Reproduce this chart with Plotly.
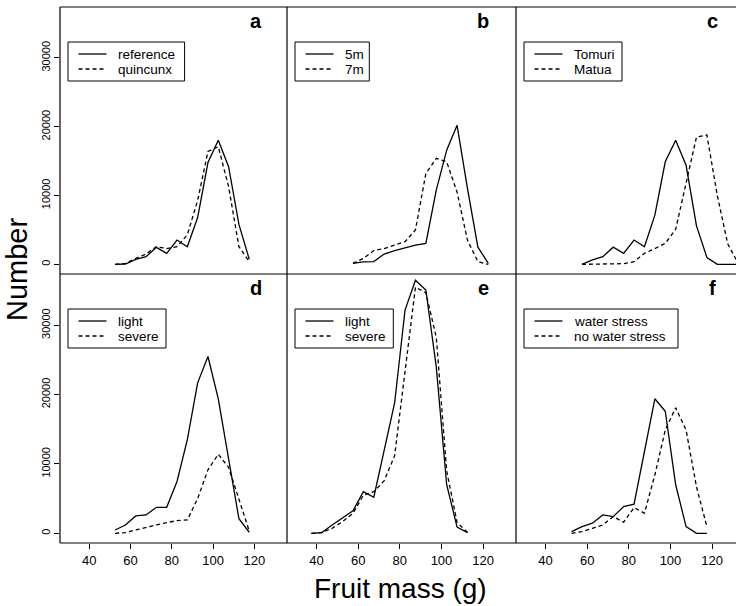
import plotly.graph_objects as go

# ---- data: fruit counts per 5 g mass class ----
mass_a = [52.5, 57.5, 62.5, 67.5, 72.5, 77.5, 82.5, 87.5, 92.5, 97.5, 102.5, 107.5, 112.5, 117.5]
a_reference = [0, 50, 730, 1110, 2470, 1600, 3530, 2570, 6800, 14800, 18050, 14200, 5800, 750]
a_quincunx = [0, 150, 870, 1500, 2570, 2300, 2570, 4300, 9300, 16400, 17100, 11300, 2570, 390]

mass_b = [57.5, 62.5, 67.5, 72.5, 77.5, 82.5, 87.5, 92.5, 97.5, 102.5, 107.5, 112.5, 117.5, 122.5]
b_5m = [150, 350, 400, 1500, 2000, 2450, 2800, 3050, 10800, 16600, 20200, 11000, 2500, 150]
b_7m = [150, 870, 2000, 2300, 2800, 3300, 5000, 13200, 15400, 14900, 10500, 3500, 400, 0]

mass_c = [57.5, 62.5, 67.5, 72.5, 77.5, 82.5, 87.5, 92.5, 97.5, 102.5, 107.5, 112.5,
          117.5, 122.5, 127.5, 132.5]
c_tomuri = [0, 650, 1110, 2500, 1600, 3530, 2570, 7150, 14900, 18050, 14400, 5600, 1000, 0, 0, 0]
c_matua = [0, 0, 0, 0, 100, 390, 1600, 2300, 3050, 5100, 12000, 18500, 18800, 10000, 3000, 150]

mass_d = [52.5, 57.5, 62.5, 67.5, 72.5, 77.5, 82.5, 87.5, 92.5, 97.5, 102.5, 107.5, 112.5, 117.5]
d_light = [480, 1200, 2500, 2650, 3750, 3750, 7470, 13500, 21700, 25500, 19400, 10800, 2100, 150]
d_severe = [0, 100, 480, 870, 1200, 1540, 1830, 1930, 5000, 9150, 11400, 9500, 5000, 340]

mass_e = [37.5, 42.5, 47.5, 52.5, 57.5, 62.5, 67.5, 72.5, 77.5, 82.5, 87.5, 92.5,
          97.5, 102.5, 107.5, 112.5]
e_light = [0, 100, 1200, 2170, 3250, 6000, 5200, 12000, 18800, 32200, 36500, 35100,
           24000, 7000, 900, 100]
e_severe = [0, 100, 720, 1690, 2890, 5500, 6000, 7600, 11200, 23200, 35500, 34700,
            28300, 9000, 1550, 150]

mass_f = [52.5, 57.5, 62.5, 67.5, 72.5, 77.5, 82.5, 87.5, 92.5, 97.5, 102.5, 107.5, 112.5, 117.5]
f_stress = [230, 960, 1450, 2650, 2400, 3850, 4200, 12000, 19400, 17600, 7000, 960, 0, 0]
f_nostress = [0, 240, 720, 1200, 2400, 1600, 3700, 2900, 8400, 14900, 18100, 14900, 6700, 960]

panel_letters = ["a", "b", "c", "d", "e", "f"]
legend_labels = [
    ["reference", "quincunx"],
    ["5m", "7m"],
    ["Tomuri", "Matua"],
    ["light", "severe"],
    ["light", "severe"],
    ["water stress", "no water stress"],
]
x_ticks = [40, 60, 80, 100, 120]
y_ticks = [0, 10000, 20000, 30000]
y_tick_text = ["0", "10000", "20000", "30000"]

panels = [
    (mass_a, a_reference, a_quincunx),
    (mass_b, b_5m, b_7m),
    (mass_c, c_tomuri, c_matua),
    (mass_d, d_light, d_severe),
    (mass_e, e_light, e_severe),
    (mass_f, f_stress, f_nostress),
]

# ---- geometry (pixels) ----
W, H = 736, 606
FONT = "Liberation Sans, Arial, Helvetica, sans-serif"
col_px = [(60, 287), (287, 516), (516, 736)]
row_px = [(7, 274), (274, 543)]
x_ranges = [[25.8, 135.8], [25.8, 135.8], [25.8, 25.8 + 220 * 110 / 229]]
y_range = [-1400, 37400]
legend_box_w = [116.6, 74.3, 98.0, 98.0, 98.3, 154.0]
DASH = "4px,3px"


def px(x):
    return x / W


def py(y):
    return 1 - y / H


fig = go.Figure()
layout = dict(
    width=W, height=H,
    margin=dict(l=0, r=0, t=0, b=0),
    paper_bgcolor="white", plot_bgcolor="white",
    showlegend=False,
    font=dict(family=FONT, color="black"),
)
shapes = []
annotations = []

for i, (xs, s1, s2) in enumerate(panels):
    row, col = divmod(i, 3)
    x0, x1 = col_px[col]
    y0, y1 = row_px[row]
    xa = "x" if i == 0 else f"x{i + 1}"
    ya = "y" if i == 0 else f"y{i + 1}"

    fig.add_trace(go.Scatter(x=xs, y=s1, mode="lines", xaxis=xa, yaxis=ya,
                             line=dict(color="black", width=1.3)))
    fig.add_trace(go.Scatter(x=xs, y=s2, mode="lines", xaxis=xa, yaxis=ya,
                             line=dict(color="black", width=1.3, dash=DASH)))

    bottom = row == 1
    left = col == 0
    layout["xaxis" if i == 0 else f"xaxis{i + 1}"] = dict(
        domain=[px(x0), px(x1)], range=x_ranges[col], anchor=ya,
        showgrid=False, zeroline=False, showline=False,
        tickvals=x_ticks, ticks="outside" if bottom else "",
        ticklen=5, tickwidth=1, tickcolor="black",
        showticklabels=bottom, tickfont=dict(size=13, family=FONT),
    )
    layout["yaxis" if i == 0 else f"yaxis{i + 1}"] = dict(
        domain=[py(y1), py(y0)], range=y_range, anchor=xa,
        showgrid=False, zeroline=False, showline=False,
        tickvals=y_ticks, ticktext=y_tick_text, ticks="outside" if left else "",
        ticklen=5, tickwidth=1, tickcolor="black",
        showticklabels=left, tickangle=-90, tickfont=dict(size=11, family=FONT),
    )

    # panel letter
    annotations.append(dict(
        x=px(x0 + 229 - 33), y=py(y0 + 23), xref="paper", yref="paper",
        text=f"<b>{panel_letters[i]}</b>", showarrow=False,
        xanchor="center", yanchor="bottom", yshift=-4,
        font=dict(size=20, family=FONT, color="black"),
    ))

    # legend box with line samples and labels
    bx0 = x0 + 8
    bx1 = bx0 + legend_box_w[i]
    by0 = y0 + 35
    by1 = y0 + 74
    shapes.append(dict(type="rect", xref="paper", yref="paper",
                       x0=px(bx0), x1=px(bx1), y0=py(by1), y1=py(by0),
                       line=dict(color="black", width=1), fillcolor="white", layer="above"))
    for k, dash in enumerate(["solid", DASH]):
        ly = y0 + 47 + k * 15
        shapes.append(dict(type="line", xref="paper", yref="paper",
                           x0=px(bx0 + 10.5), x1=px(bx0 + 38.5), y0=py(ly), y1=py(ly),
                           line=dict(color="black", width=1.3, dash=dash), layer="above"))
        annotations.append(dict(
            x=px(bx0 + 48), y=py(ly + 0.5), xref="paper", yref="paper",
            text=legend_labels[i][k], showarrow=False,
            xanchor="left", yanchor="middle",
            font=dict(size=13.5, family=FONT, color="black"),
        ))

# panel frame lines
for y in (7, 274, 543):
    shapes.append(dict(type="line", xref="paper", yref="paper",
                       x0=px(60), x1=1, y0=py(y), y1=py(y),
                       line=dict(color="black", width=1.2), layer="above"))
for x in (60, 287, 516):
    shapes.append(dict(type="line", xref="paper", yref="paper",
                       x0=px(x), x1=px(x), y0=py(543), y1=py(7),
                       line=dict(color="black", width=1.2), layer="above"))

# axis titles
annotations.append(dict(
    x=px(17), y=py(270), xref="paper", yref="paper", text="Number",
    textangle=-90, showarrow=False, xanchor="center", yanchor="middle",
    font=dict(size=29, family=FONT, color="black"),
))
annotations.append(dict(
    x=px(400), y=py(588), xref="paper", yref="paper", text="Fruit mass (g)",
    showarrow=False, xanchor="center", yanchor="middle",
    font=dict(size=28, family=FONT, color="black"),
))

layout["shapes"] = shapes
layout["annotations"] = annotations
fig.update_layout(**layout)
fig.write_html("out.html")
